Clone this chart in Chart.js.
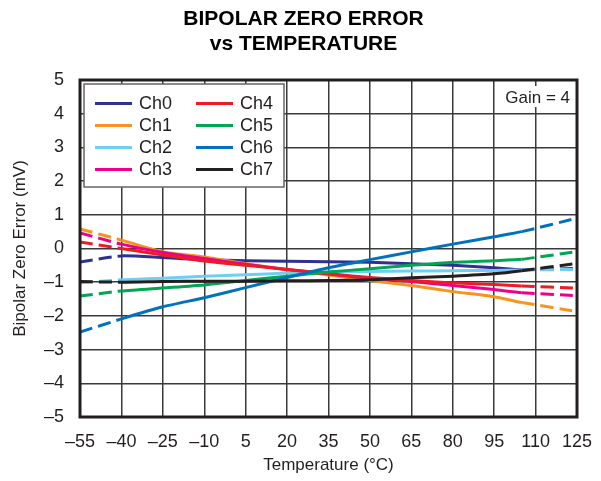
<!DOCTYPE html>
<html>
<head>
<meta charset="utf-8">
<script src="https://cdn.jsdelivr.net/npm/chart.js@4.4.0/dist/chart.umd.min.js"></script>
<style>
  html, body { margin: 0; padding: 0; background: #fff; }
  #wrap { width: 601px; height: 481px; }
</style>
</head>
<body>
<div id="wrap"><canvas id="zeroErr" width="601" height="481"></canvas></div>
<script>
/* ── Data ───────────────────────────────────────────── */
const temps = [-55, -40, -25, -10, 5, 20, 35, 50, 65, 80, 95, 105, 125];

const ch0 = [-0.40, -0.22, -0.27, -0.33, -0.36, -0.38, -0.39, -0.41, -0.45, -0.50, -0.57, -0.63, -0.59];
const ch1 = [ 0.58,  0.25, -0.10, -0.25, -0.45, -0.63, -0.79, -0.95, -1.10, -1.28, -1.43, -1.60, -1.87];
const ch2 = [-1.02, -0.93, -0.88, -0.82, -0.78, -0.73, -0.70, -0.68, -0.67, -0.66, -0.65, -0.64, -0.62];
const ch3 = [ 0.46,  0.13, -0.12, -0.30, -0.47, -0.62, -0.76, -0.88, -0.98, -1.10, -1.22, -1.31, -1.40];
const ch4 = [ 0.19,  0.00, -0.19, -0.37, -0.50, -0.62, -0.75, -0.86, -0.95, -1.02, -1.07, -1.11, -1.18];
const ch5 = [-1.41, -1.26, -1.17, -1.08, -0.95, -0.82, -0.70, -0.60, -0.50, -0.41, -0.36, -0.32, -0.09];
const ch6 = [-2.48, -2.09, -1.73, -1.46, -1.16, -0.86, -0.57, -0.33, -0.10,  0.13,  0.35,  0.50,  0.90];
const ch7 = [-0.98, -1.00, -0.98, -0.97, -0.97, -0.96, -0.95, -0.93, -0.87, -0.82, -0.75, -0.66, -0.44];

const channelNames  = ['Ch0', 'Ch1', 'Ch2', 'Ch3', 'Ch4', 'Ch5', 'Ch6', 'Ch7'];
const channelValues = [ch0, ch1, ch2, ch3, ch4, ch5, ch6, ch7];
const channelColors = ['#2e3192', '#f7941d', '#6dcff6', '#ec008c', '#ed1c24', '#00a651', '#0072bc', '#231f20'];

const xTicks = [-55, -40, -25, -10, 5, 20, 35, 50, 65, 80, 95, 110, 125];
const yTicks = [-5, -4, -3, -2, -1, 0, 1, 2, 3, 4, 5];

const titleLines = ['BIPOLAR ZERO ERROR', 'vs TEMPERATURE'];

// solid only inside the specified range, dashed outside it
const specLow = -40, specHigh = 105;

const FONT = '"Liberation Sans", Arial, Helvetica, sans-serif';
const fmt = v => (v < 0 ? '\u2013' + Math.abs(v) : String(v));

/* ── Datasets ───────────────────────────────────────── */
const datasets = channelNames.map((name, i) => ({
  label: name,
  data: temps.map((t, k) => ({ x: t, y: channelValues[i][k] })),
  borderColor: channelColors[i],
  backgroundColor: channelColors[i],
  borderWidth: 3,
  pointRadius: 0,
  tension: 0.2,
  order: channelNames.length - i,
  segment: {
    borderDash: ctx => (ctx.p1.parsed.x <= specLow || ctx.p0.parsed.x >= specHigh) ? [13, 6] : undefined
  }
}));

/* ── Title, frame, legend box, gain note ────────────── */
const overlay = {
  id: 'overlay',
  beforeDraw(chart) {
    const { ctx } = chart;
    ctx.save();
    ctx.font = 'bold 21px ' + FONT;
    ctx.fillStyle = '#000';
    ctx.textAlign = 'center';
    ctx.textBaseline = 'middle';
    titleLines.forEach((t, i) => ctx.fillText(t, 303.5, 19 + i * 25));
    ctx.restore();
  },
  afterDatasetsDraw(chart) {
    const { ctx, chartArea: a } = chart;
    ctx.save();

    // gain note, white behind it
    ctx.fillStyle = '#fff';
    ctx.fillRect(497, 86, a.right - 498, 21);
    ctx.font = '17px ' + FONT;
    ctx.fillStyle = '#231f20';
    ctx.textAlign = 'right';
    ctx.textBaseline = 'middle';
    ctx.fillText('Gain = 4', a.right - 7, 98);

    // legend box
    const bx = 84, by = 84, bw = 200, bh = 103;
    ctx.fillStyle = '#fff';
    ctx.fillRect(bx, by, bw, bh);
    ctx.strokeStyle = '#666';
    ctx.lineWidth = 1.5;
    ctx.strokeRect(bx, by, bw, bh);

    ctx.font = '18px ' + FONT;
    ctx.textAlign = 'left';
    chart.data.datasets.forEach((ds, i) => {
      const col = Math.floor(i / 4), row = i % 4;
      const x0 = col ? 196 : 95;
      const y = 103.5 + row * 22;
      ctx.strokeStyle = ds.borderColor;
      ctx.lineWidth = 3;
      ctx.beginPath();
      ctx.moveTo(x0, y);
      ctx.lineTo(x0 + 37, y);
      ctx.stroke();
      ctx.fillStyle = '#231f20';
      ctx.fillText(ds.label, x0 + 44, y + 1);
    });

    // plot frame
    ctx.strokeStyle = '#231f20';
    ctx.lineWidth = 3;
    ctx.strokeRect(a.left, a.top, a.right - a.left, a.bottom - a.top);
    ctx.restore();
  }
};

/* ── Chart ──────────────────────────────────────────── */
new Chart(document.getElementById('zeroErr'), {
  type: 'line',
  data: { datasets },
  plugins: [overlay],
  options: {
    responsive: false,
    animation: false,
    devicePixelRatio: 1,
    layout: { padding: { left: 0, right: 24, top: 80, bottom: 0 } },
    plugins: {
      legend: { display: false },
      tooltip: { enabled: false },
      title: { display: false }
    },
    scales: {
      x: {
        type: 'linear',
        min: -55, max: 125,
        afterBuildTicks: s => { s.ticks = xTicks.map(v => ({ value: v })); },
        afterFit: s => { s.height = 64; s.paddingLeft = 0; s.paddingRight = 0; },
        grid: { color: '#3a3a3a', lineWidth: 1.5, drawTicks: false },
        border: { display: false },
        ticks: { color: '#231f20', font: { family: FONT, size: 18 }, padding: 14, maxRotation: 0, callback: fmt },
        title: { display: true, text: 'Temperature (\u00B0C)', color: '#231f20', font: { family: FONT, size: 17 }, padding: { top: 0, bottom: 5 } }
      },
      y: {
        min: -5, max: 5,
        afterBuildTicks: s => { s.ticks = yTicks.map(v => ({ value: v })); },
        afterFit: s => { s.width = 80; s.paddingTop = 0; s.paddingBottom = 0; },
        grid: { color: '#3a3a3a', lineWidth: 1.5, drawTicks: false },
        border: { display: false },
        ticks: { color: '#231f20', font: { family: FONT, size: 18 }, padding: 16, callback: fmt },
        title: { display: true, text: 'Bipolar Zero Error (mV)', color: '#231f20', font: { family: FONT, size: 17 }, padding: { top: 10, bottom: 0 } }
      }
    }
  }
});
</script>
</body>
</html>
